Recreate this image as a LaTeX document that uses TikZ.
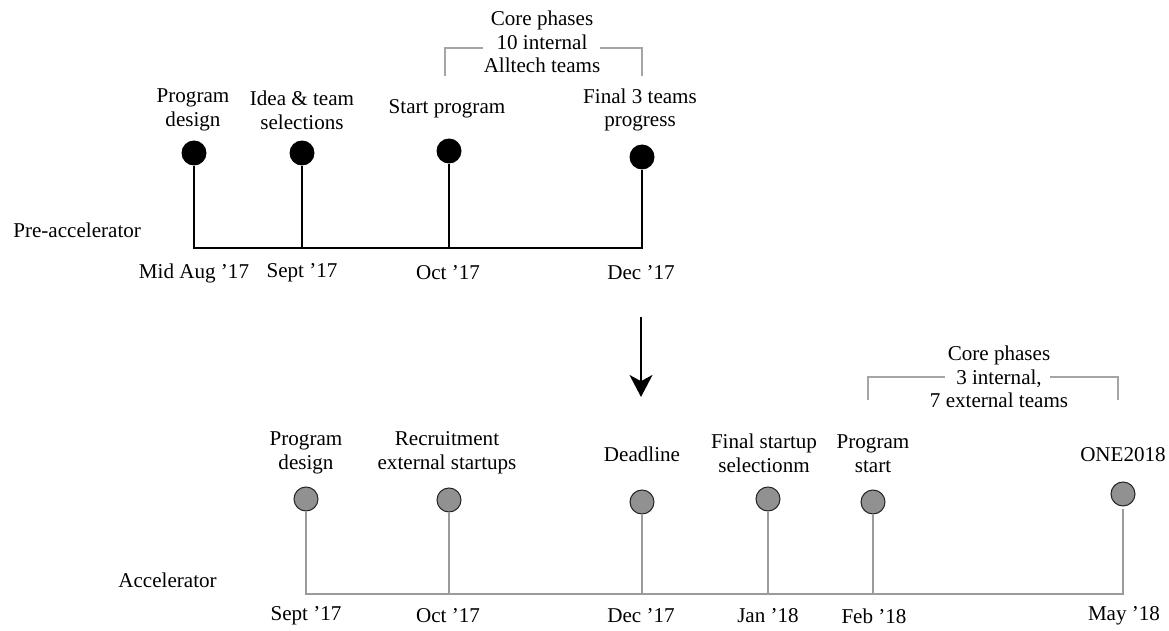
\documentclass[tikz,border=0pt]{standalone}
\usepackage{fontspec}
\setmainfont{Liberation Serif}
\usetikzlibrary{arrows.meta}
\definecolor{linegray}{RGB}{155,155,155}
\definecolor{dotgray}{RGB}{145,145,145}
\definecolor{bracketgray}{RGB}{165,165,165}
\begin{document}
\begin{tikzpicture}[x=0.02cm, y=-0.02cm,
                    txt/.style={font=\fontsize{12}{13.5}\selectfont, align=center, inner sep=0pt},
                    blackdot/.style={circle, fill=black, inner sep=0pt, minimum size=0.5cm},
                    graydot/.style={circle, fill=dotgray, draw=black!85, line width=0.6pt, inner sep=0pt, minimum size=0.48cm},
                    blackline/.style={line width=1.6pt, black},
                    grayline/.style={line width=1.5pt, linegray},
                    bracket/.style={line width=0.7pt, bracketgray}]
                    \useasboundingbox (0,0) rectangle (1169,631);
                    % Pre-accelerator dots
                    \node[txt, anchor=west] (pre) at (13,230) {Pre-accelerator};
                    \node[blackdot] (p1) at (194,153) {};
                    \node[blackdot] (p2) at (302,153) {};
                    \node[blackdot] (p3) at (449,151) {};
                    \node[blackdot] (p4) at (642,157) {};
                    \coordinate (pb1) at (194,248);
                    \coordinate (pb2) at (302,248);
                    \coordinate (pb3) at (449,248);
                    \coordinate (pb4) at (642,248);
                    \draw[blackline] (p1.south) -- (pb1) -- (pb4) -- (p4.south);
                    \draw[blackline] (p2.south) -- (pb2);
                    \draw[blackline] (p3.south) -- (pb3);
                    % Pre-accelerator labels
                    \node[txt] (pl1) at (193,110) {Program\\design};
                    \node[txt] (pl2) at (302,110) {Idea \& team\\selections};
                    \node[txt] (pl3) at (447,109) {Start program};
                    \node[txt] (pl4) at (640,110) {Final 3 teams\\progress};
                    \node[txt] (pd1) at (194,273) {Mid Aug '17};
                    \node[txt] (pd2) at (302,273) {Sept '17};
                    \node[txt] (pd3) at (448,273) {Oct '17};
                    \node[txt] (pd4) at (641,273) {Dec '17};
                    % Core phases bracket
                    \node[txt] (pcore) at (542,42) {Core phases\\10 internal\\Alltech teams};
                    \coordinate (pcl) at (445,76);
                    \coordinate (pca) at (483,48);
                    \coordinate (pcb) at (600,48);
                    \coordinate (pcr) at (642,76);
                    \draw[bracket] (pcl) |- (pca);
                    \draw[bracket] (pcb) -| (pcr);
                    % Arrow
                    \coordinate (arrtop) at (641,317);
                    \coordinate (arrtip) at (641,397);
                    \draw[line width=1.5pt, -{Stealth[length=12.5pt, width=13pt, inset=3.5pt]}] (arrtop) -- (arrtip);
                    % Accelerator dots
                    \node[txt, anchor=west] (acc) at (118,580) {Accelerator};
                    \coordinate (ab1) at (306,594);
                    \coordinate (ab2) at (449,594);
                    \coordinate (ab3) at (642,594);
                    \coordinate (ab4) at (768,594);
                    \coordinate (ab5) at (873,594);
                    \coordinate (ab6) at (1123,594);
                    \node[graydot] (a1) at (306,499) {};
                    \node[graydot] (a2) at (449,500) {};
                    \node[graydot] (a3) at (642,502) {};
                    \node[graydot] (a4) at (768,499) {};
                    \node[graydot] (a5) at (873,502) {};
                    \node[graydot] (a6) at (1123,494) {};
                    \draw[grayline] (a1.south) -- (ab1) -- (ab6) -- ([yshift=-1.5pt]a6.south);
                    \draw[grayline] (a2.south) -- (ab2);
                    \draw[grayline] (a3.south) -- (ab3);
                    \draw[grayline] (a4.south) -- (ab4);
                    \draw[grayline] (a5.south) -- (ab5);
                    % Accelerator labels
                    \node[txt] (al1) at (306,453) {Program\\design};
                    \node[txt] (al2) at (447,453) {Recruitment\\external startups};
                    \node[txt] (al3) at (642,454) {Deadline};
                    \node[txt] (al4) at (764,453) {Final startup\\selectionm};
                    \node[txt] (al5) at (873,454) {Program\\start};
                    \node[txt] (al6) at (1123,455) {ONE2018};
                    \node[txt] (ad1) at (306,616) {Sept '17};
                    \node[txt] (ad2) at (448,616) {Oct '17};
                    \node[txt] (ad3) at (641,616) {Dec '17};
                    \node[txt] (ad4) at (768,616) {Jan '18};
                    \node[txt] (ad5) at (874,616) {Feb '18};
                    \node[txt] (ad6) at (1124,616) {May '18};
                    % Core phases bracket
                    \node[txt] (acore) at (999,377) {Core phases\\3 internal,\\7 external teams};
                    \coordinate (acl) at (868,400);
                    \coordinate (aca) at (945,377);
                    \coordinate (acb) at (1050,377);
                    \coordinate (acr) at (1118,400);
                    \draw[bracket] (acl) |- (aca);
                    \draw[bracket] (acb) -| (acr);
                \end{tikzpicture}
\end{document}
